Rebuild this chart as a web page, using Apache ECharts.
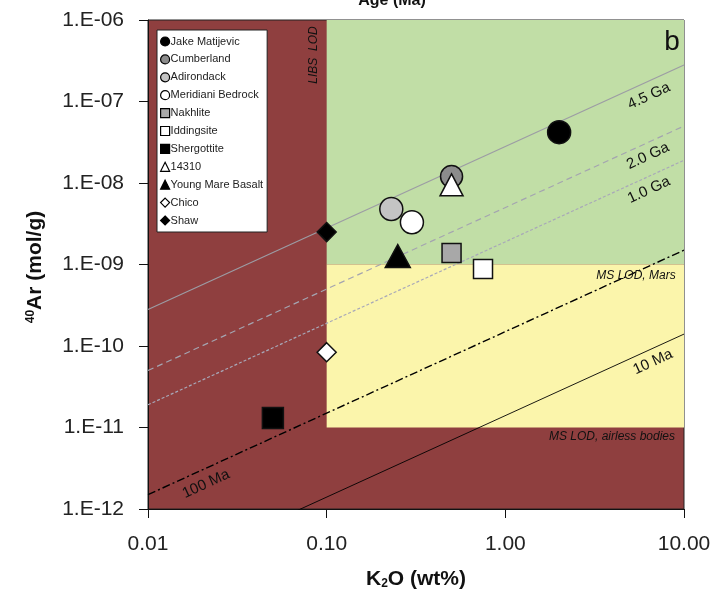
<!DOCTYPE html>
<html>
<head>
<meta charset="utf-8">
<script src="https://cdn.jsdelivr.net/npm/echarts@6/dist/echarts.min.js"></script>
<style>
html,body{margin:0;padding:0;background:#fff;}
#chart{width:711px;height:589px;}
</style>
</head>
<body>
<div id="chart"></div>
<script>
var sampleNames = ['Jake Matijevic','Cumberland','Adirondack','Meridiani Bedrock','Nakhlite','Iddingsite','Shergottite','14310','Young Mare Basalt','Chico','Shaw'];
var k2oValues  = [2.0, 0.5, 0.23, 0.30, 0.5, 0.75, 0.05, 0.5, 0.25, 0.1, 0.1];
var ar40Values = [4.2e-8, 1.2e-8, 4.8e-9, 3.3e-9, 1.38e-9, 8.8e-10, 1.31e-11, 9.5e-9, 1.27e-9, 8.4e-11, 2.5e-9];

// isochrons, read at both ends of the x axis
var isoK2O = [0.01, 10];
var iso45Ga  = [2.8e-10, 2.8e-7];
var iso20Ga  = [5.0e-11, 5.0e-8];
var iso10Ga  = [1.9e-11, 1.9e-8];
var iso100Ma = [1.5e-12, 1.5e-9];
var iso10Ma  = [1.4e-13, 1.4e-10];

var libsLod = 0.1;
var msLodMars = 1e-9;
var msLodAirless = 1e-11;

var xTickLabels = ['0.01','0.10','1.00','10.00'];
var yTickLabels = ['1.E-12','1.E-11','1.E-10','1.E-09','1.E-08','1.E-07','1.E-06'];

var symbols = ['circle','circle','circle','circle','rect','rect','rect','triangle','triangle','diamond','diamond'];
var fills   = ['#000','#8c8c8c','#c4c4c4','#fff','#a8a8a8','#fff','#000','#fff','#000','#fff','#000'];
var sizes   = [23, 22, 23, 23, 19, 19, 21, [23,22], [25,23], 19, 19];

var font = '"Liberation Sans", Arial, sans-serif';
var chart = echarts.init(document.getElementById('chart'));

var pairs = function(ys){
    return [[isoK2O[0], ys[0]], [isoK2O[1], ys[1]]];
};

var series = [];
series.push({
    type:'line', data:[], z:1, silent:true,
    markArea:{
        silent:true,
        data:[
            [{xAxis:libsLod, yAxis:msLodMars, itemStyle:{color:'#c1dea6'}}, {xAxis:10, yAxis:1e-6}],
            [{xAxis:libsLod, yAxis:msLodAirless, itemStyle:{color:'#fbf5ab'}}, {xAxis:10, yAxis:msLodMars}]
        ]
    }
});
var lineDefs = [
    [iso45Ga, '#9c9ca4', 'solid', 1.2],
    [iso20Ga, '#a4a4b0', [6,4], 1.2],
    [iso10Ga, '#a8a8b8', [3,2], 1.2],
    [iso100Ma, '#000', [8,3,2,3], 1.4],
    [iso10Ma, '#000', 'solid', 0.9]
];
for(var i = 0; i < lineDefs.length; i++){
    series.push({
        type:'line', z:2, silent:true, symbol:'none',
        data:pairs(lineDefs[i][0]),
        lineStyle:{color:lineDefs[i][1], type:lineDefs[i][2], width:lineDefs[i][3]}
    });
}
for(var j = 0; j < sampleNames.length; j++){
    series.push({
        name:sampleNames[j], type:'scatter', z:3,
        symbol:symbols[j], symbolSize:sizes[j],
        data:[[k2oValues[j], ar40Values[j]]],
        itemStyle:{color:fills[j], borderColor:'#111', borderWidth:1.5, opacity:1}
    });
}

var rot = Math.atan(81.5/178.3);
var txt = function(x, y, s, size, extra){
    var st = {text:s, fill:'#111', font:(extra && extra.font ? extra.font : '') + ' ' + size + 'px ' + font, align:'center', verticalAlign:'middle'};
    return {type:'text', x:x, y:y, rotation:(extra && extra.rot) || 0, style:st, z:10};
};

chart.setOption({
    animation:false,
    grid:{left:148, right:27, top:20, bottom:80, containLabel:false, outerBoundsMode:'none',
        show:true, backgroundColor:'#8f3f3f', borderColor:'#222', borderWidth:1},
    xAxis:{
        type:'log', min:0.01, max:10, logBase:10,
        axisLine:{lineStyle:{color:'#111'}},
        axisTick:{length:9, lineStyle:{color:'#111'}},
        splitLine:{show:false}, minorTick:{show:false},
        axisLabel:{fontFamily:font, fontSize:21, color:'#222', margin:25,
            formatter:function(v){ return xTickLabels[Math.round(Math.log10(v)) + 2]; }}
    },
    yAxis:{
        type:'log', min:1e-12, max:1e-6, logBase:10,
        axisLine:{show:true, lineStyle:{color:'#111'}},
        axisTick:{show:true, length:9, lineStyle:{color:'#111'}},
        splitLine:{show:false},
        axisLabel:{fontFamily:font, fontSize:21, color:'#222', margin:24,
            formatter:function(v){ return yTickLabels[Math.round(Math.log10(v)) + 12]; }}
    },
    legend:{
        data:sampleNames, orient:'vertical', left:157, top:30,
        itemWidth:9, itemHeight:9, itemGap:6.9,
        padding:[6,4,6,3],
        backgroundColor:'#fff', borderColor:'#222', borderWidth:1,
        textStyle:{fontFamily:font, fontSize:11, color:'#222', padding:[0,0,0,-4]},
        itemStyle:{borderWidth:1.2, borderColor:'#000'},
        selectedMode:false
    },
    series:series,
    graphic:[
        txt(392, 1, 'Age (Ma)', 16, {font:'bold'}),
        txt(672, 42, 'b', 28),
        txt(649, 96, '4.5 Ga', 15, {rot:rot}),
        txt(648, 156, '2.0 Ga', 15, {rot:rot}),
        txt(649, 190, '1.0 Ga', 15, {rot:rot}),
        txt(653, 362, '10 Ma', 15, {rot:rot}),
        txt(206, 484, '100 Ma', 15, {rot:rot}),
        txt(636, 276, 'MS LOD, Mars', 12, {font:'italic'}),
        txt(612, 437, 'MS LOD, airless bodies', 12, {font:'italic'}),
        txt(314, 55, 'LIBS  LOD', 12, {font:'italic', rot:Math.PI/2}),
        {type:'text', x:416, y:579, z:10, style:{
            text:'{a|K}{s|2}{a|O (wt%)}', align:'center', verticalAlign:'middle',
            rich:{a:{fontFamily:font, fontSize:21, fontWeight:'bold', fill:'#111'},
                  s:{fontFamily:font, fontSize:12, fontWeight:'bold', fill:'#111', padding:[9,0,0,0]}}}},
        {type:'text', x:35, y:267, z:10, rotation:Math.PI/2, style:{
            text:'{s|40}{a|Ar (mol/g)}', align:'center', verticalAlign:'middle',
            rich:{a:{fontFamily:font, fontSize:21, fontWeight:'bold', fill:'#111'},
                  s:{fontFamily:font, fontSize:12, fontWeight:'bold', fill:'#111', padding:[0,0,9,0]}}}}
    ]
});
</script>
</body>
</html>
